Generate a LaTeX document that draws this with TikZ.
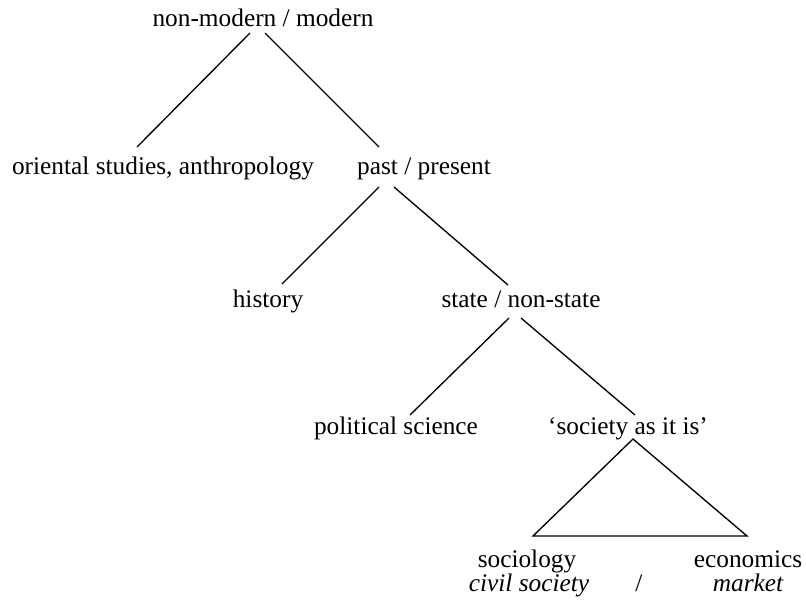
\documentclass[tikz,border=0pt]{standalone}
\usepackage{fontspec}
\setmainfont{Liberation Serif}
\begin{document}
\begin{tikzpicture}[x=0.75pt,y=-0.75pt,line width=1pt,
        main/.style = {inner sep=0pt, anchor=base, font=\fontsize{19}{23}\selectfont},
        ital/.style = {main, font=\fontsize{19}{23}\selectfont\itshape}]
        \useasboundingbox (0,0) rectangle (806,604);
        \node[main] (1) at (263,26) {non-modern / modern};
        \node[main] (2) at (163,174) {oriental studies, anthropology};
        \node[main] (3) at (424,174) {past / present};
        \node[main] (4) at (268,307) {history};
        \node[main] (5) at (521,307) {state / non-state};
        \node[main] (6) at (396,434) {political science};
        \node[main] (7) at (628,434) {‘society as it is’};
        \node[main] (8) at (527,567) {sociology};
        \node[main] (9) at (748,567) {economics};
        \node[ital] (10) at (529,591) {civil society};
        \node[main] (11) at (639,591) {/};
        \node[ital] (12) at (748,591) {market};
        \draw ([shift={(-13,7)}]1.base) -- ([shift={(-26,-27)}]2.base);
        \draw ([shift={(2,7)}]1.base) -- ([shift={(-45,-27)}]3.base);
        \draw ([shift={(-45,13)}]3.base) -- ([shift={(14,-23)}]4.base);
        \draw ([shift={(-30,13)}]3.base) -- ([shift={(-13,-22)}]5.base);
        \draw ([shift={(-12,11)}]5.base) -- ([shift={(14,-19)}]6.base);
        \draw ([shift={(0,11)}]5.base) -- ([shift={(7,-19)}]7.base);
        \draw ([shift={(5,5)}]7.base) -- ([shift={(6,-31)}]8.base) -- ([shift={(-1,-31)}]9.base) -- cycle;
        \end{tikzpicture}
\end{document}
